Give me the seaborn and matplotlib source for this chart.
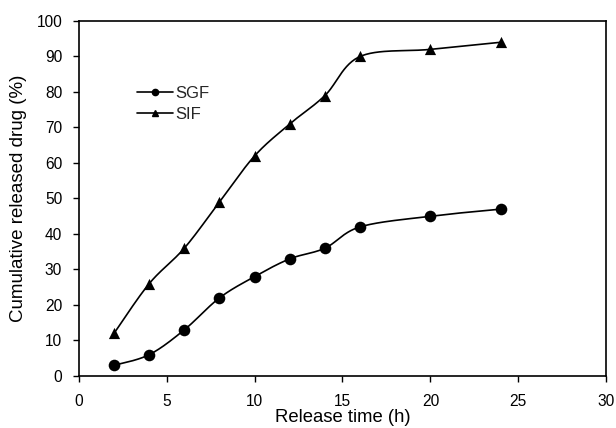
import matplotlib
matplotlib.use("Agg")
import matplotlib.pyplot as plt
from matplotlib.lines import Line2D
import seaborn as sns
import numpy as np
import pandas as pd

sns.set_theme(style="ticks")
plt.rcParams["font.family"] = ["Liberation Sans", "DejaVu Sans"]

# --- Data ---
time_h = [2, 4, 6, 8, 10, 12, 14, 16, 20, 24]
sgf = [3, 6, 13, 22, 28, 33, 36, 42, 45, 47]
sif = [12, 26, 36, 49, 62, 71, 79, 90, 92, 94]


def smooth_curve(x, y, n=30):
    # Excel-style smoothed line: Catmull-Rom Bezier through the data points
    p = np.column_stack([x, y]).astype(float)
    ext = np.vstack([p[0], p, p[-1]])
    t = np.linspace(0, 1, n)[:, None]
    segs = []
    for i in range(len(p) - 1):
        p0, p1, p2, p3 = ext[i], ext[i + 1], ext[i + 2], ext[i + 3]
        c1 = p1 + (p2 - p0) / 6
        c2 = p2 - (p3 - p1) / 6
        b = ((1 - t) ** 3) * p1 + 3 * ((1 - t) ** 2) * t * c1 \
            + 3 * (1 - t) * t ** 2 * c2 + t ** 3 * p2
        segs.append(b if i == 0 else b[1:])
    s = np.vstack(segs)
    return pd.DataFrame({"x": s[:, 0], "y": s[:, 1]})


fig = plt.figure(figsize=(6.16, 4.28), dpi=100)
ax = fig.add_axes([0.128, 0.1215, 0.856, 0.8295])

for vals, mk, ms in [(sgf, "o", 70), (sif, "^", 65)]:
    curve = smooth_curve(time_h, vals)
    sns.lineplot(x="x", y="y", data=curve, sort=False, color="black",
                 linewidth=1.2, ax=ax, estimator=None)
    pts = pd.DataFrame({"t": time_h, "v": vals})
    sns.scatterplot(x="t", y="v", data=pts, marker=mk, s=ms, color="black",
                    edgecolor="black", linewidth=0, ax=ax, zorder=3)

ax.set_xlim(0, 30)
ax.set_ylim(0, 100)
ax.set_xticks(range(0, 31, 5))
ax.set_yticks(range(0, 101, 10))
ax.tick_params(axis="both", direction="out", length=4, width=1,
               color="black", labelsize=11.2, labelcolor="black")
ax.tick_params(axis="x", pad=9)
ax.tick_params(axis="y", pad=8)
for sp in ax.spines.values():
    sp.set_visible(True)
    sp.set_color("black")
    sp.set_linewidth(1.2)

ax.set_xlabel("Release time (h)", fontsize=13.3, color="black", labelpad=0)
ax.set_ylabel("Cumulative released drug (%)", fontsize=13.5, color="black",
              labelpad=7)

handles = [
    Line2D([], [], color="black", lw=1.2, marker="o", markersize=4.5),
    Line2D([], [], color="black", lw=1.2, marker="^", markersize=4.5),
]
ax.legend(handles, ["SGF", "SIF"], loc="upper left",
          bbox_to_anchor=(0.097, 0.836), frameon=False, fontsize=12,
          handlelength=2.2, handletextpad=0.1, labelspacing=0.35,
          borderaxespad=0)

fig.savefig("out.png", dpi=100)
